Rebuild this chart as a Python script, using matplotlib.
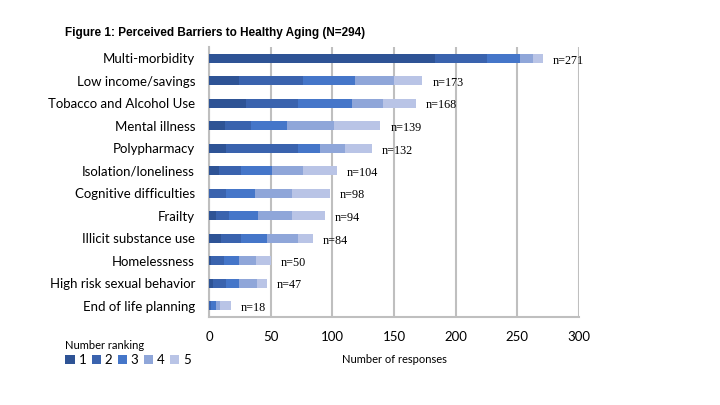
import numpy as np
import matplotlib.pyplot as plt
from matplotlib.patches import Patch

# Barriers, top to bottom as shown
barriers = ["Multi-morbidity", "Low income/savings", "Tobacco and Alcohol Use",
            "Mental illness", "Polypharmacy", "Isolation/loneliness",
            "Cognitive difficulties", "Frailty", "Illicit substance use",
            "Homelessness", "High risk sexual behavior", "End of life planning"]

# Number of responses per ranking (1..5)
rank1 = [183, 24, 30, 13, 14, 8, 0, 6, 10, 2, 3, 0]
rank2 = [42, 52, 42, 21, 58, 18, 14, 10, 16, 10, 11, 2]
rank3 = [27, 42, 44, 29, 18, 25, 23, 24, 21, 12, 10, 4]
rank4 = [11, 32, 25, 38, 20, 25, 30, 27, 25, 14, 15, 3]
rank5 = [8, 23, 27, 38, 22, 28, 31, 27, 12, 12, 8, 9]
totals = [271, 173, 168, 139, 132, 104, 98, 94, 84, 50, 47, 18]

rank_names = ["1", "2", "3", "4", "5"]
colors = ["#2E5395", "#3A63AE", "#4576C9", "#8FA6D9", "#B9C4E6"]

fig = plt.figure(figsize=(7.2, 4.05), dpi=100)
ax = fig.add_axes([209/720, 1 - 317/405, 370/720, 270/405])

y = np.arange(len(barriers))
left = np.zeros(len(barriers))
for vals, c in zip([rank1, rank2, rank3, rank4, rank5], colors):
    ax.barh(y, vals, left=left, height=0.38, color=c, zorder=3)
    left += np.array(vals)

for yi, t in zip(y, totals):
    ax.text(t + 8, yi + 0.1, f"n={t}", va="center", ha="left",
            fontsize=8.7, family="Liberation Serif", color="black")

ax.set_ylim(len(barriers) - 0.5, -0.5)
ax.set_xlim(0, 300)
ax.set_xticks(range(0, 301, 50))
ax.set_yticks(y)
ax.set_yticklabels(barriers, family="Lato", fontsize=9.5)
ax.tick_params(axis="y", length=0, pad=10)
for lab in ax.get_xticklabels():
    lab.set_family("Lato")
    lab.set_fontsize(9.5)
ax.tick_params(axis="x", length=0, pad=10)

ax.grid(axis="x", color="#BFBFBF", linewidth=1.5, zorder=0)
for s in ["top", "right"]:
    ax.spines[s].set_visible(False)
for s in ["left", "bottom"]:
    ax.spines[s].set_color("#BFBFBF")
    ax.spines[s].set_linewidth(1.5)

ax.set_xlabel("Number of responses", family="Lato", fontsize=8, labelpad=8)

fig.text(65/720, 1 - 33/405, "Figure 1: Perceived Barriers to Healthy Aging (N=294)",
         fontsize=8.5, fontweight="bold", family="Liberation Sans", va="center", ha="left")

handles = [Patch(facecolor=c, edgecolor="none") for c in colors]
leg = fig.legend(handles, rank_names, title="Number ranking", ncol=5,
                 loc="upper left", bbox_to_anchor=(60/720, 1 - 335/405),
                 frameon=False, handlelength=0.7, handleheight=0.7,
                 handletextpad=0.3, columnspacing=0.4, alignment="left",
                 labelspacing=0.2, borderaxespad=0.0,
                 prop={"family": "Lato", "size": 9.5},
                 title_fontproperties={"family": "Lato", "size": 8})

fig.savefig("out.png", dpi=100)
